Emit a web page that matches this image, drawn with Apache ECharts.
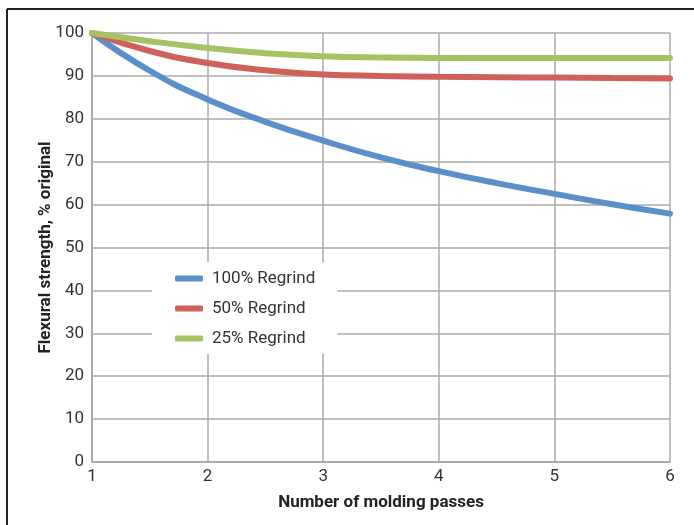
<!DOCTYPE html>
<html><head><meta charset="utf-8">
<script src="https://cdn.jsdelivr.net/npm/echarts@6/dist/echarts.min.js"></script>
<style>html,body{margin:0;padding:0;background:#fff}#c{width:694px;height:525px}</style>
</head><body><div id="c"></div>
<script>
const passes = [1, 1.5, 2, 2.5, 3, 3.5, 4, 4.5, 5, 5.5, 6];
const regrind100 = [100, 91.2, 84.5, 79.3, 74.9, 71.0, 67.8, 65.0, 62.5, 60.1, 57.9];
const regrind50 = [100, 95.8, 93.0, 91.3, 90.3, 90.0, 89.8, 89.7, 89.6, 89.5, 89.4];
const regrind25 = [100, 98.1, 96.5, 95.3, 94.6, 94.3, 94.2, 94.2, 94.2, 94.2, 94.2];
const seriesNames = ['100% Regrind', '50% Regrind', '25% Regrind'];
const colors = ['#5B8FC9', '#D0605A', '#A5C365'];
const FONT = '"Roboto", sans-serif';

const chart = echarts.init(document.getElementById('c'), null, {renderer: 'canvas'});
const mk = (name, vals, color) => ({
  name, type: 'line', smooth: 0.5, showSymbol: false, symbol: 'none',
  data: passes.map((x, i) => [x, vals[i]]),
  lineStyle: {color, width: 6, cap: 'round'}, itemStyle: {color}, z: 3
});
chart.setOption({
  animation: false,
  backgroundColor: '#fff',
  grid: {left: 92, right: 24, top: 33, bottom: 63},
  xAxis: {
    type: 'value', min: 1, max: 6, interval: 1,
    name: 'Number of molding passes', nameLocation: 'middle', nameGap: 32,
    nameTextStyle: {fontFamily: FONT, fontSize: 17, fontWeight: 'bold', color: '#222'},
    axisLine: {show: true, lineStyle: {color: '#aaa', width: 2}},
    axisTick: {show: false},
    axisLabel: {fontFamily: FONT, fontSize: 17, color: '#333', margin: 6},
    splitLine: {show: true, lineStyle: {color: '#aaa', width: 1.5}}
  },
  yAxis: {
    type: 'value', min: 0, max: 100, interval: 10,
    name: 'Flexural strength, % original', nameLocation: 'middle', nameGap: 38,
    nameMoveOverlap: false,
    nameTextStyle: {fontFamily: FONT, fontSize: 17, fontWeight: 'bold', color: '#222'},
    axisLine: {show: true, lineStyle: {color: '#aaa', width: 2}},
    axisTick: {show: false},
    axisLabel: {fontFamily: FONT, fontSize: 17, color: '#333', margin: 8},
    splitLine: {show: true, lineStyle: {color: '#aaa', width: 1.5}}
  },
  legend: {
    orient: 'vertical', left: 152, top: 262,
    backgroundColor: '#fff', padding: [8, 22, 7, 23],
    itemGap: 13, itemWidth: 28, itemHeight: 6, icon: 'roundRect',
    textStyle: {fontFamily: FONT, fontSize: 17, color: '#333', padding: [0, 0, 0, 4]},
    data: seriesNames
  },
  graphic: [
    {type: 'line', shape: {x1: 7, y1: 9, x2: 694, y2: 9}, style: {stroke: '#222', lineWidth: 2}},
    {type: 'line', shape: {x1: 7, y1: 9, x2: 7, y2: 525}, style: {stroke: '#222', lineWidth: 2}}
  ],
  series: [mk(seriesNames[0], regrind100, colors[0]), mk(seriesNames[1], regrind50, colors[1]), mk(seriesNames[2], regrind25, colors[2])]
});
</script></body></html>
